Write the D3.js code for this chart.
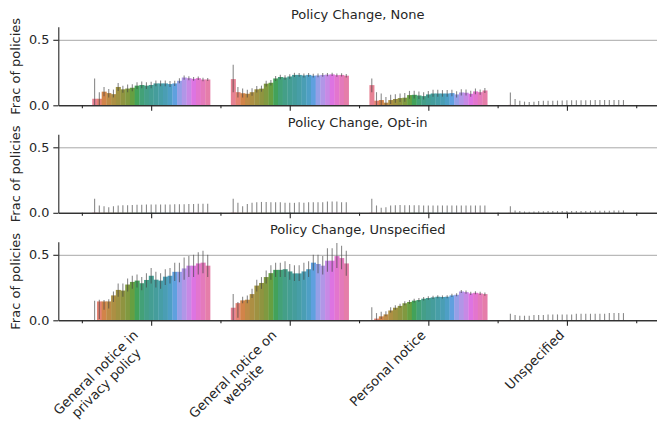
<!DOCTYPE html>
<html><head><meta charset="utf-8">
<script src="https://cdn.jsdelivr.net/npm/d3@7"></script>
<style>
body{margin:0;background:#fff}
text{font-family:"DejaVu Sans",sans-serif;fill:#262626}
</style></head>
<body>
<script>
// ---------------- DATA ----------------
const categories = ["General notice in privacy policy","General notice on website","Personal notice","Unspecified"];
const categoryLines = [["General notice in","privacy policy"],["General notice on","website"],["Personal notice"],["Unspecified"]];
const facets = ["Policy Change, None","Policy Change, Opt-in","Policy Change, Unspecified"];
const hueLevels = ["L01","L02","L03","L04","L05","L06","L07","L08","L09","L10","L11","L12","L13","L14","L15","L16","L17","L18","L19","L20","L21","L22","L23","L24","L25"];
const yTicks = [0.0, 0.5];

// Facet "None"
const none_pp_val = [0.05,0.05,0.104,0.093,0.085,0.14,0.122,0.128,0.134,0.15,0.155,0.15,0.155,0.167,0.167,0.167,0.162,0.167,0.187,0.212,0.207,0.202,0.207,0.197,0.197];
const none_pp_lo  = [0.0,0.0,0.07,0.06,0.06,0.11,0.095,0.1,0.108,0.125,0.13,0.125,0.13,0.145,0.145,0.145,0.14,0.147,0.168,0.195,0.192,0.188,0.194,0.184,0.185];
const none_pp_hi  = [0.205,0.1,0.14,0.125,0.12,0.17,0.15,0.158,0.16,0.176,0.182,0.176,0.18,0.19,0.19,0.19,0.185,0.188,0.206,0.228,0.222,0.216,0.22,0.21,0.209];
const none_web_val = [0.2,0.1,0.092,0.088,0.1,0.122,0.127,0.165,0.172,0.205,0.216,0.212,0.22,0.232,0.232,0.228,0.232,0.226,0.228,0.232,0.234,0.236,0.23,0.232,0.226];
const none_web_lo  = [0.1,0.06,0.06,0.06,0.072,0.097,0.104,0.143,0.152,0.186,0.198,0.195,0.203,0.216,0.217,0.213,0.217,0.212,0.214,0.218,0.221,0.223,0.217,0.219,0.213];
const none_web_hi  = [0.31,0.14,0.128,0.118,0.13,0.148,0.15,0.188,0.193,0.224,0.234,0.229,0.237,0.248,0.247,0.243,0.247,0.24,0.242,0.246,0.247,0.249,0.243,0.245,0.239];
const none_pers_val = [0.154,0.035,0.04,0.02,0.04,0.048,0.055,0.058,0.078,0.08,0.075,0.07,0.083,0.09,0.09,0.09,0.09,0.093,0.083,0.098,0.096,0.088,0.106,0.1,0.113];
const none_pers_lo  = [0.1,0.0,0.0,0.0,0.01,0.02,0.025,0.028,0.05,0.052,0.048,0.045,0.058,0.065,0.065,0.066,0.066,0.07,0.06,0.075,0.074,0.066,0.085,0.08,0.094];
const none_pers_hi  = [0.205,0.1,0.09,0.063,0.08,0.085,0.09,0.093,0.11,0.112,0.105,0.1,0.11,0.118,0.118,0.116,0.116,0.118,0.108,0.122,0.12,0.112,0.128,0.121,0.133];
const none_uns_val = [0.003,0.002,0.002,0.002,0.002,0.002,0.002,0.002,0.002,0.002,0.002,0.002,0.002,0.002,0.002,0.002,0.002,0.002,0.002,0.002,0.002,0.002,0.002,0.002,0.002];
const none_uns_lo  = [0,0,0,0,0,0,0,0,0,0,0,0,0,0,0,0,0,0,0,0,0,0,0,0,0];
const none_uns_hi  = [0.098,0.048,0.034,0.028,0.026,0.028,0.033,0.035,0.035,0.035,0.036,0.036,0.038,0.038,0.038,0.038,0.039,0.039,0.04,0.04,0.04,0.04,0.04,0.04,0.04];

// Facet "Opt-in"
const opt_pp_val = [0.002,0.001,0.001,0.001,0.001,0.001,0.001,0.001,0.001,0.001,0.001,0.001,0.001,0.001,0.001,0.001,0.001,0.001,0.001,0.001,0.001,0.001,0.001,0.001,0.001];
const opt_pp_lo  = [0,0,0,0,0,0,0,0,0,0,0,0,0,0,0,0,0,0,0,0,0,0,0,0,0];
const opt_pp_hi  = [0.107,0.056,0.05,0.043,0.05,0.056,0.058,0.058,0.06,0.062,0.062,0.063,0.063,0.063,0.063,0.064,0.064,0.065,0.065,0.066,0.067,0.068,0.069,0.07,0.07];
const opt_web_val = [0.002,0.001,0.001,0.001,0.001,0.001,0.001,0.001,0.001,0.001,0.001,0.001,0.001,0.001,0.001,0.001,0.001,0.001,0.001,0.001,0.001,0.001,0.001,0.001,0.001];
const opt_web_lo  = [0,0,0,0,0,0,0,0,0,0,0,0,0,0,0,0,0,0,0,0,0,0,0,0,0];
const opt_web_hi  = [0.107,0.076,0.05,0.068,0.076,0.08,0.083,0.083,0.08,0.08,0.08,0.076,0.076,0.076,0.08,0.076,0.08,0.08,0.08,0.08,0.087,0.087,0.087,0.08,0.08];
const opt_pers_val = [0.002,0.001,0.001,0.001,0.001,0.001,0.001,0.001,0.001,0.001,0.001,0.001,0.001,0.001,0.001,0.001,0.001,0.001,0.001,0.001,0.001,0.001,0.001,0.001,0.001];
const opt_pers_lo  = [0,0,0,0,0,0,0,0,0,0,0,0,0,0,0,0,0,0,0,0,0,0,0,0,0];
const opt_pers_hi  = [0.107,0.056,0.038,0.043,0.056,0.058,0.06,0.058,0.058,0.058,0.058,0.056,0.056,0.056,0.056,0.056,0.056,0.056,0.056,0.056,0.056,0.056,0.056,0.056,0.056];
const opt_uns_val = [0.001,0,0,0,0,0,0,0,0,0,0,0,0,0,0,0,0,0,0,0,0,0,0,0,0];
const opt_uns_lo  = [0,0,0,0,0,0,0,0,0,0,0,0,0,0,0,0,0,0,0,0,0,0,0,0,0];
const opt_uns_hi  = [0.05,0.018,0.013,0.01,0.008,0.01,0.012,0.012,0.013,0.013,0.013,0.013,0.013,0.013,0.013,0.013,0.014,0.014,0.015,0.015,0.016,0.016,0.017,0.018,0.018];

// Facet "Unspecified"
const uns_pp_val = [0.0,0.144,0.144,0.144,0.19,0.232,0.227,0.273,0.293,0.303,0.283,0.308,0.34,0.31,0.303,0.333,0.34,0.37,0.37,0.396,0.417,0.417,0.434,0.44,0.417];
const uns_pp_lo  = [0.0,0.01,0.08,0.09,0.14,0.18,0.18,0.22,0.24,0.25,0.23,0.25,0.28,0.25,0.24,0.27,0.28,0.3,0.29,0.31,0.33,0.33,0.35,0.36,0.33];
const uns_pp_hi  = [0.15,0.156,0.155,0.16,0.22,0.28,0.28,0.32,0.34,0.35,0.33,0.36,0.4,0.37,0.36,0.39,0.4,0.44,0.44,0.48,0.49,0.5,0.52,0.53,0.5];
const uns_web_val = [0.096,0.131,0.152,0.157,0.2,0.265,0.285,0.33,0.36,0.385,0.385,0.39,0.373,0.358,0.358,0.373,0.39,0.44,0.43,0.417,0.455,0.455,0.49,0.475,0.434];
const uns_web_lo  = [0.0,0.02,0.13,0.13,0.17,0.22,0.24,0.28,0.31,0.33,0.33,0.33,0.31,0.3,0.3,0.31,0.33,0.38,0.36,0.35,0.37,0.37,0.4,0.39,0.34];
const uns_web_hi  = [0.2,0.14,0.18,0.19,0.24,0.31,0.33,0.38,0.42,0.44,0.44,0.45,0.43,0.42,0.42,0.44,0.45,0.5,0.5,0.49,0.55,0.55,0.59,0.57,0.53];
const uns_pers_val = [0.0,0.013,0.03,0.045,0.075,0.096,0.11,0.13,0.14,0.15,0.155,0.165,0.17,0.175,0.18,0.178,0.18,0.19,0.195,0.22,0.215,0.205,0.21,0.205,0.2];
const uns_pers_lo  = [0.0,0.0,0.01,0.03,0.06,0.08,0.095,0.115,0.125,0.136,0.141,0.152,0.157,0.162,0.168,0.166,0.168,0.178,0.183,0.208,0.203,0.193,0.198,0.193,0.188];
const uns_pers_hi  = [0.1,0.055,0.065,0.07,0.1,0.115,0.127,0.146,0.155,0.165,0.17,0.178,0.183,0.188,0.192,0.19,0.192,0.202,0.207,0.232,0.227,0.217,0.222,0.217,0.212];
const uns_uns_val = [0.001,0.001,0.001,0.001,0.001,0.001,0.001,0.001,0.001,0.001,0.001,0.001,0.001,0.001,0.001,0.001,0.001,0.001,0.001,0.001,0.001,0.001,0.001,0.001,0.001];
const uns_uns_lo  = [0,0,0,0,0,0,0,0,0,0,0,0,0,0,0,0,0,0,0,0,0,0,0,0,0];
const uns_uns_hi  = [0.05,0.04,0.035,0.035,0.035,0.04,0.04,0.04,0.045,0.045,0.045,0.045,0.045,0.045,0.05,0.05,0.05,0.05,0.05,0.05,0.05,0.055,0.055,0.055,0.055];

const facetData = [
  [[none_pp_val,none_pp_lo,none_pp_hi],[none_web_val,none_web_lo,none_web_hi],[none_pers_val,none_pers_lo,none_pers_hi],[none_uns_val,none_uns_lo,none_uns_hi]],
  [[opt_pp_val,opt_pp_lo,opt_pp_hi],[opt_web_val,opt_web_lo,opt_web_hi],[opt_pers_val,opt_pers_lo,opt_pers_hi],[opt_uns_val,opt_uns_lo,opt_uns_hi]],
  [[uns_pp_val,uns_pp_lo,uns_pp_hi],[uns_web_val,uns_web_lo,uns_web_hi],[uns_pers_val,uns_pers_lo,uns_pers_hi],[uns_uns_val,uns_uns_lo,uns_uns_hi]]
];

// ---------------- HUSL palette (seaborn husl_palette, desaturated 0.75) ----------------
const M = [[3.240969941904521,-1.537383177570093,-0.498610760293],
           [-0.96924363628087,1.87596750150772,0.041555057407175],
           [0.055630079696993,-0.20397695888897,1.056971514242878]];
const refU = 0.19783000664283, refV = 0.46831999493879, kappa = 903.2962962, eps = 0.0088564516;
function getBounds(L){
  const out=[]; const sub1=Math.pow(L+16,3)/1560896; const sub2 = sub1>eps?sub1:L/kappa;
  for(let c=0;c<3;c++){const [m1,m2,m3]=M[c];
    for(let t=0;t<2;t++){
      const top1=(284517*m1-94839*m3)*sub2;
      const top2=(838422*m3+769860*m2+731718*m1)*L*sub2-769860*t*L;
      const bottom=(632260*m3-126452*m2)*sub2+126452*t;
      out.push([top1/bottom, top2/bottom]);}}
  return out;
}
function maxChroma(L,H){
  const hr=H/360*Math.PI*2; let min=Infinity;
  for(const [s,i] of getBounds(L)){const len=i/(Math.sin(hr)-s*Math.cos(hr)); if(len>=0&&len<min)min=len;}
  return min;
}
function husl2rgb(H,S,L){
  const C = maxChroma(L,H)/100*S;
  const hr=H/360*Math.PI*2; const U=C*Math.cos(hr), V=C*Math.sin(hr);
  const Y = L<=8? L/kappa : Math.pow((L+16)/116,3);
  const vu=U/(13*L)+refU, vv=V/(13*L)+refV;
  const X = 0-(9*Y*vu)/((vu-4)*vv-vu*vv);
  const Z = (9*Y-15*vv*Y-vv*X)/(3*vv);
  const f=c=>c<=0.0031308?12.92*c:1.055*Math.pow(c,1/2.4)-0.055;
  return M.map(r=>Math.min(1,Math.max(0,f(r[0]*X+r[1]*Y+r[2]*Z))));
}
const palette = hueLevels.map((d,i)=>{
  let h=(i/hueLevels.length+0.01)%1*359;
  const [r,g,b]=husl2rgb(h,0.9*99,0.65*99);
  const c=d3.hsl(d3.rgb(r*255,g*255,b*255)); c.s*=0.75; return c.formatHex();
});
const color = d3.scaleOrdinal().domain(hueLevels).range(palette);

// ---------------- LAYOUT ----------------
const W=657,H=422;
const svg=d3.select("body").append("svg").attr("width",W).attr("height",H);
const x = d3.scaleLinear().domain([-0.67,3.65]).range([58.3,657]);
const hueBand = d3.scaleBand().domain(hueLevels).range([-0.425,0.425]);
const bw = x(hueBand.bandwidth())-x(0);
const baselines=[105.3,212.8,320.3];
const axisCol="#262626";

facets.forEach((title,fi)=>{
  const y=d3.scaleLinear().domain([0,0.6]).range([baselines[fi],baselines[fi]-78.6]);
  const g=svg.append("g");
  // gridline
  g.selectAll("line.grid").data([0.5]).enter().append("line")
    .attr("x1",x.range()[0]).attr("x2",x.range()[1]).attr("y1",d=>y(d)+0.5).attr("y2",d=>y(d)+0.5)
    .attr("stroke","#a8a8a8").attr("stroke-width",1);
  // bars
  categories.forEach((cat,ci)=>{
    const [vals,lo,hi]=facetData[fi][ci];
    const rows=hueLevels.map((h,k)=>({h,v:vals[k],lo:lo[k],hi:hi[k]}));
    g.selectAll(null).data(rows).enter().append("rect")
      .attr("x",d=>x(ci+hueBand(d.h))).attr("width",bw+0.3)
      .attr("y",d=>y(d.v)).attr("height",d=>y(0)-y(d.v))
      .attr("fill",d=>color(d.h));
    g.selectAll(null).data(rows).enter().append("line")
      .attr("x1",d=>x(ci+hueBand(d.h)+hueBand.bandwidth()/2)).attr("x2",d=>x(ci+hueBand(d.h)+hueBand.bandwidth()/2))
      .attr("y1",d=>y(d.lo)).attr("y2",d=>y(d.hi))
      .attr("stroke","#424242").attr("stroke-opacity",0.62).attr("stroke-width",1.1);
  });
  // y axis
  const ya=g.append("g").attr("transform","translate(58.3,0)")
    .call(d3.axisLeft(y).tickValues(yTicks).tickFormat(d3.format(".1f")).tickSize(5).tickSizeOuter(0).tickPadding(4));
  ya.selectAll("path,line").attr("stroke",axisCol).attr("stroke-width",1.1);
  ya.selectAll("text").attr("font-size","12.8px").attr("font-family","DejaVu Sans").attr("fill",axisCol);
  // x axis (minor boundary ticks)
  const xm=g.append("g").attr("transform",`translate(0,${baselines[fi]})`)
    .call(d3.axisBottom(x).tickValues([-0.5,0.5,1.5,2.5,3.5]).tickSize(3).tickSizeOuter(0).tickFormat(""));
  xm.selectAll("path,line").attr("stroke",axisCol).attr("stroke-width",1.1);
  // x axis major ticks
  const xa=g.append("g").attr("transform",`translate(0,${baselines[fi]})`)
    .call(d3.axisBottom(x).tickValues([0,1,2,3]).tickSize(5.5).tickSizeOuter(0).tickFormat(""));
  xa.selectAll("path,line").attr("stroke",axisCol).attr("stroke-width",1.1);
  // title
  g.append("text").attr("x",(x.range()[0]+x.range()[1])/2).attr("y",baselines[fi]-86)
    .attr("text-anchor","middle").attr("font-size","13px").text(title);
  // y label
  g.append("text").attr("transform",`translate(20,${baselines[fi]-39}) rotate(-90)`)
    .attr("text-anchor","middle").attr("font-size","13px").text("Frac of policies");
  // category labels on bottom facet
  if(fi===facets.length-1){
    const fs=13.2, lh=fs*1.12;
    xa.selectAll(".tick").each(function(d){
      const lines=categoryLines[d];
      const tg=d3.select(this).append("g");
      const t=tg.append("text").attr("font-size",fs+"px").attr("text-anchor","middle");
      lines.forEach((s,k)=>t.append("tspan").attr("x",0).attr("y",fs*0.76+k*lh).text(s));
      const bb=t.node().getBBox();
      const wMax=bb.width, hTot=lines.length*lh;
      t.attr("transform",`translate(${-wMax/2},0)`);
      const c=Math.SQRT1_2;
      tg.attr("transform",`translate(${-c*hTot+1},8.5) rotate(-45)`);
    });
  }
});
</script>
</body></html>
